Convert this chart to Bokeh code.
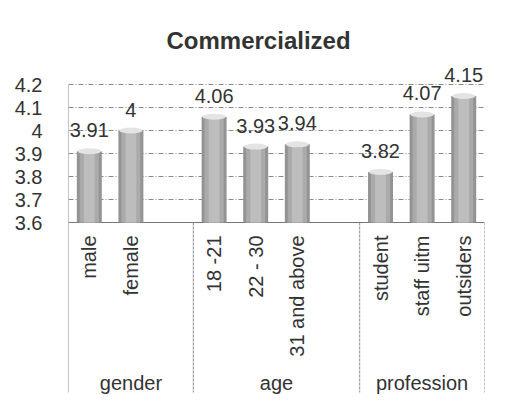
import math
from bokeh.plotting import figure
from bokeh.models import Range1d, FixedTicker, CustomJSTickFormatter, ColumnDataSource
from bokeh.core.properties import value
from bokeh.embed import file_html
from bokeh.resources import INLINE

# ---- data ----
groups = ["gender", "age", "profession"]
categories = [["male", "female"], ["18 -21", "22 - 30", "31 and above"],
              ["student", "staff uitm", "outsiders"]]
values = [[3.91, 4.0], [4.06, 3.93, 3.94], [3.82, 4.07, 4.15]]
value_labels = [["3.91", "4"], ["4.06", "3.93", "3.94"], ["3.82", "4.07", "4.15"]]
y_ticks = [3.6, 3.7, 3.8, 3.9, 4.0, 4.1, 4.2]
title = "Commercialized"

FONT = "Liberation Sans"
TXT = "#333333"
FS = "20px"

# slot layout: each group followed by an empty slot, except the last
xs, cats, vals, vlabs = [], [], [], []
group_edges = [0]
group_centers = []
pos = 0
for gi, (g, cs, vs, ls) in enumerate(zip(groups, categories, values, value_labels)):
    start = pos
    for c, v, l in zip(cs, vs, ls):
        xs.append(pos + 0.5)
        cats.append(c)
        vals.append(v)
        vlabs.append(l)
        pos += 1
    if gi < len(groups) - 1:
        pos += 1
    group_edges.append(pos)
    group_centers.append((start + pos) / 2)
n_slots = pos

# ---- figure geometry ----
W, H = 499, 394
ML, MR, MT = 68, 15, 58
frame_h = H - MT
ppu = 230.0  # pixels per unit on y
ymin_v, ymax_v = y_ticks[0], y_ticks[-1]
y_top = ymax_v + 26 / ppu
y_bot = y_top - frame_h / ppu

p = figure(width=W, height=H, output_backend="svg", toolbar_location=None,
           x_range=Range1d(0, n_slots), y_range=Range1d(y_bot, y_top),
           min_border_left=ML, min_border_right=MR, min_border_top=MT,
           min_border_bottom=0)
p.title.text = title
p.title.text_font = FONT
p.title.text_font_size = "24px"
p.title.text_font_style = "bold"
p.title.text_color = TXT
p.title.align = "left"
p.title.offset = 98
p.outline_line_color = None
p.background_fill_color = "white"
p.border_fill_color = "white"

p.xaxis.visible = False
p.xgrid.visible = False
yax = p.yaxis[0]
yax.ticker = FixedTicker(ticks=y_ticks)
yax.formatter = CustomJSTickFormatter(code="return String(Math.round(tick*10)/10);")
yax.axis_line_color = None
yax.major_tick_line_color = None
yax.minor_tick_line_color = None
yax.major_label_standoff = 20
yax.major_label_text_font = FONT
yax.major_label_text_font_size = FS
yax.major_label_text_color = TXT

p.ygrid.ticker = FixedTicker(ticks=y_ticks[1:])
p.ygrid.grid_line_color = "#8a8a8a"
p.ygrid.grid_line_dash = "5 2 1 2"
p.ygrid.grid_line_width = 1

line_bottom = ymax_v - 308 / ppu

# axis line at 3.6
p.segment(x0=[0], y0=[ymin_v], x1=[n_slots], y1=[ymin_v], line_color="#777777", line_width=1)
# left vertical line
p.segment(x0=[0], y0=[ymax_v], x1=[0], y1=[line_bottom], line_color="#888888", line_width=1)
# group separators below axis
seps = group_edges[1:]
p.segment(x0=seps, y0=[ymin_v] * len(seps), x1=seps, y1=[line_bottom] * len(seps),
          line_color="#8a8a8a", line_width=1, line_dash="3 1")

src = ColumnDataSource(dict(x=xs, top=vals, cat=cats, lab=vlabs))

# cylinder-like bars
p.vbar(x="x", top="top", bottom=ymin_v, width=0.60, source=src, fill_color="#939393", line_color=None)
p.vbar(x="x", top="top", bottom=ymin_v, width=0.46, source=src, fill_color="#aaaaaa", line_color=None)
p.vbar(x="x", top="top", bottom=ymin_v, width=0.26, source=src, fill_color="#bdbdbd", line_color=None)
p.ellipse(x="x", y="top", width=0.56, height=6, height_units="screen", source=src,
          fill_color="#e4e4e4", line_color=None)

# value labels
p.text(x="x", y="top", text="lab", source=src, y_offset=-21,
       text_align="center", text_baseline="middle", text_font=value(FONT),
       text_font_size=FS, text_color=TXT)

# category labels (rotated)
p.text(x="x", y=ymin_v, text="cat", source=src, y_offset=13, angle=math.pi / 2,
       text_align="right", text_baseline="middle", text_font=value(FONT),
       text_font_size=FS, text_color=TXT)

# group labels
p.text(x=group_centers, y=[ymin_v] * len(groups), text=groups, y_offset=160,
       text_align="center", text_baseline="middle", text_font=value(FONT),
       text_font_size=FS, text_color=TXT)

open("out.html", "w").write(file_html(p, INLINE))
